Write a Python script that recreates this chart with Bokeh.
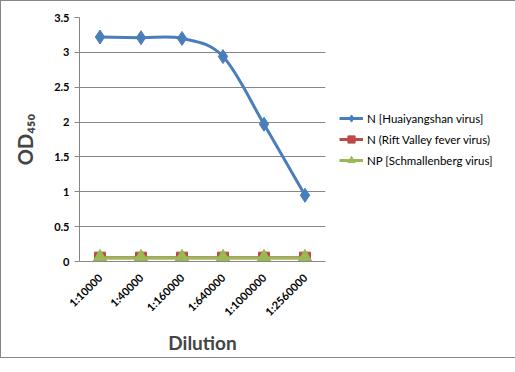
import math
from bokeh.plotting import figure
from bokeh.models import Legend, LegendItem, FixedTicker, NumeralTickFormatter, Range1d
from bokeh.embed import file_html
from bokeh.resources import INLINE

dilutions = ["1:10000", "1:40000", "1:160000", "1:640000", "1:1000000", "1:2560000"]
huaiyangshan = [3.22, 3.21, 3.20, 2.94, 1.97, 0.95]
rift_valley = [0.055, 0.055, 0.055, 0.055, 0.055, 0.055]
schmallenberg = [0.05, 0.05, 0.05, 0.05, 0.05, 0.05]
y_ticks = [0, 0.5, 1, 1.5, 2, 2.5, 3, 3.5]

BLUE = "#4a7ebb"
RED = "#be4b48"
GREEN = "#98b954"
GRID = "#868686"
FONT = "Lato"

xs = [i + 0.5 for i in range(len(dilutions))]

p = figure(width=499, height=356, frame_width=246, frame_height=244,
           output_backend="svg", toolbar_location=None,
           x_range=Range1d(0, len(dilutions)), y_range=Range1d(0, 3.5),
           min_border_left=78, min_border_top=16, min_border_bottom=96, min_border_right=0)
p.outline_line_color = None
p.styles = {"border": "1px solid #868686", "box-sizing": "border-box"}

# smoothed line (Catmull-Rom style bezier from data points)
def smooth(x, y):
    out = dict(x0=[], y0=[], x1=[], y1=[], cx0=[], cy0=[], cx1=[], cy1=[])
    n = len(x)
    for i in range(n - 1):
        p0 = (x[max(i - 1, 0)], y[max(i - 1, 0)])
        p1 = (x[i], y[i])
        p2 = (x[i + 1], y[i + 1])
        p3 = (x[min(i + 2, n - 1)], y[min(i + 2, n - 1)])
        out["x0"].append(p1[0]); out["y0"].append(p1[1])
        out["x1"].append(p2[0]); out["y1"].append(p2[1])
        out["cx0"].append(p1[0] + (p2[0] - p0[0]) / 6); out["cy0"].append(p1[1] + (p2[1] - p0[1]) / 6)
        out["cx1"].append(p2[0] - (p3[0] - p1[0]) / 6); out["cy1"].append(p2[1] - (p3[1] - p1[1]) / 6)
    return out

series = [
    (huaiyangshan, BLUE, "diamond", 14, "N [Huaiyangshan virus]"),
    (rift_valley, RED, "square", 11, "N (Rift Valley fever virus)"),
    (schmallenberg, GREEN, "triangle", 15, "NP [Schmallenberg virus]"),
]

items = []
for vals, color, marker, size, label in series:
    s = smooth(xs, vals)
    p.bezier(x0=s["x0"], y0=s["y0"], x1=s["x1"], y1=s["y1"], cx0=s["cx0"], cy0=s["cy0"],
             cx1=s["cx1"], cy1=s["cy1"], line_color=color, line_width=3)
    p.scatter(xs, vals, marker=marker, size=size, fill_color=color, line_color=color)
    r1 = p.line([0], [0], line_color=color, line_width=3, visible=False)
    r2 = p.scatter([0], [0], marker=marker, size=size - 4, fill_color=color, line_color=color, visible=False)
    items.append(LegendItem(label=label, renderers=[r1, r2]))

leg = Legend(items=items, location="left")
leg.label_text_font = FONT
leg.label_text_font_size = "11.5px"
leg.label_text_color = "#000000"
leg.border_line_color = None
leg.background_fill_alpha = 0
leg.glyph_width = 24
leg.glyph_height = 18
leg.label_standoff = 4
leg.spacing = 3
leg.padding = 2
leg.margin = 14
p.add_layout(leg, "right")

# axes
p.xaxis.ticker = FixedTicker(ticks=xs)
p.xaxis.major_label_overrides = {x: d for x, d in zip(xs, dilutions)}
p.xaxis.major_label_orientation = math.pi / 4
p.xaxis.major_tick_line_color = None
p.xaxis.minor_tick_line_color = None
p.xaxis.axis_line_color = GRID
p.xaxis.major_label_text_font = FONT
p.xaxis.major_label_text_font_style = "bold"
p.xaxis.major_label_text_font_size = "11px"
p.xaxis.major_label_text_color = "#000000"
p.xaxis.major_label_standoff = 8
p.xaxis.axis_label = "Dilution"
p.xaxis.axis_label_text_font = FONT
p.xaxis.axis_label_text_font_style = "bold"
p.xaxis.axis_label_text_font_size = "19px"
p.xaxis.axis_label_standoff = 5

p.yaxis.ticker = FixedTicker(ticks=y_ticks)
p.yaxis.formatter = NumeralTickFormatter(format="0.[0]")
p.yaxis.axis_line_color = GRID
p.yaxis.major_tick_line_color = GRID
p.yaxis.major_tick_in = 0
p.yaxis.major_tick_out = 5
p.yaxis.minor_tick_line_color = None
p.yaxis.major_label_text_font = FONT
p.yaxis.major_label_text_font_style = "bold"
p.yaxis.major_label_text_font_size = "11px"
p.yaxis.major_label_text_color = "#000000"
p.yaxis.axis_label = "OD₄₅₀"
p.yaxis.axis_label_text_font = FONT
p.yaxis.axis_label_text_font_style = "bold"
p.yaxis.axis_label_text_font_size = "20px"
p.yaxis.axis_label_standoff = 14

p.xgrid.grid_line_color = None
p.ygrid.ticker = FixedTicker(ticks=y_ticks)
p.ygrid.grid_line_color = GRID
p.ygrid.grid_line_width = 1

open("out.html", "w").write(file_html(p, INLINE))
